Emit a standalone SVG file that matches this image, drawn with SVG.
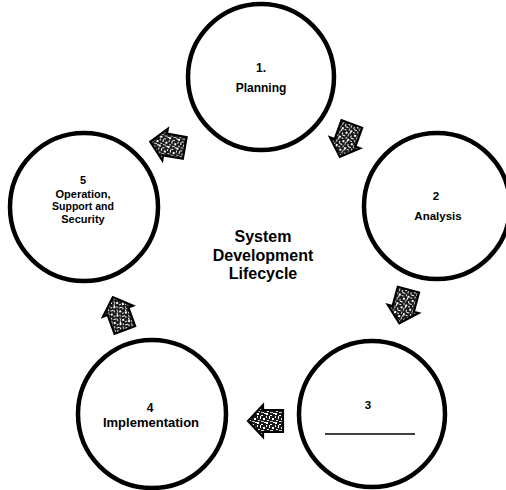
<svg xmlns="http://www.w3.org/2000/svg" width="506" height="490" viewBox="0 0 506 490">
  <style>
    .node { fill: #ffffff; stroke: #000000; stroke-width: 4.5; }
    .lbl { font-family: "Liberation Sans", Arial, sans-serif; font-weight: bold; fill: #000000; text-anchor: middle; }
    .title { font-family: "Liberation Sans", Arial, sans-serif; font-weight: bold; fill: #000000; text-anchor: middle; font-size: 16px; }
    .arrow { fill: url(#speckle); stroke: #000000; stroke-width: 2.2; stroke-linejoin: miter; }
  </style>
  <defs>
    <pattern id="speckle" patternUnits="userSpaceOnUse" width="9" height="9">
      <rect width="9" height="9" fill="#1a1a1a"/>
      <rect x="1" y="1" width="2" height="2" fill="#ffffff"/>
      <rect x="5" y="2" width="1" height="3" fill="#ffffff"/>
      <rect x="3" y="5" width="2" height="1" fill="#ffffff"/>
      <rect x="7" y="6" width="2" height="2" fill="#ffffff"/>
      <rect x="0" y="7" width="2" height="1" fill="#ffffff"/>
      <rect x="6" y="0" width="2" height="1" fill="#dddddd"/>
      <rect x="2" y="8" width="3" height="1" fill="#cccccc"/>
      <rect x="8" y="3" width="1" height="2" fill="#eeeeee"/>
    </pattern>
    <path id="blockArrow" d="M-17,-11 H3 V-16 L18,0 L3,16 V11 H-17 Z"/>
  </defs>

  <g id="connectors">
    <use href="#blockArrow" class="arrow" transform="translate(168,145) rotate(190)"/>
    <use href="#blockArrow" class="arrow" transform="translate(346,140) rotate(110)"/>
    <use href="#blockArrow" class="arrow" transform="translate(404,306) rotate(105)"/>
    <use href="#blockArrow" class="arrow" transform="translate(266,421) rotate(180)"/>
    <use href="#blockArrow" class="arrow" transform="translate(119,314) rotate(250)"/>
  </g>

  <g id="node-1">
    <circle class="node" cx="261" cy="77" r="73"/>
    <text class="lbl" x="261" y="72" font-size="12">1.</text>
    <text class="lbl" x="261" y="92" font-size="12">Planning</text>
  </g>

  <g id="node-2">
    <circle class="node" cx="437" cy="206" r="73"/>
    <text class="lbl" x="436" y="200" font-size="11.5">2</text>
    <text class="lbl" x="438" y="220" font-size="11.5">Analysis</text>
  </g>

  <g id="node-3">
    <circle class="node" cx="372" cy="414" r="73"/>
    <text class="lbl" x="368" y="409" font-size="11.5">3</text>
    <line x1="325" y1="434" x2="415" y2="434" stroke="#000000" stroke-width="1.3"/>
  </g>

  <g id="node-4">
    <circle class="node" cx="152" cy="414" r="74"/>
    <text class="lbl" x="150" y="412" font-size="12">4</text>
    <text class="lbl" x="151" y="427" font-size="13">Implementation</text>
  </g>

  <g id="node-5">
    <circle class="node" cx="84" cy="207" r="74"/>
    <text class="lbl" x="83" y="184" font-size="11">5</text>
    <text class="lbl" x="83" y="198" font-size="11">Operation,</text>
    <text class="lbl" x="83" y="210" font-size="10.5">Support and</text>
    <text class="lbl" x="83" y="223" font-size="11">Security</text>
  </g>

  <g id="title">
    <text class="title" x="263" y="242">System</text>
    <text class="title" x="263" y="261">Development</text>
    <text class="title" x="263" y="279">Lifecycle</text>
  </g>
</svg>
